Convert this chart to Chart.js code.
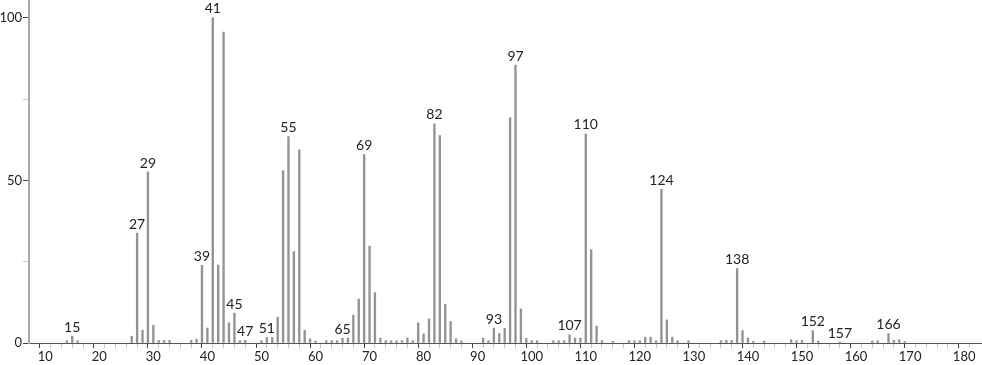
<!DOCTYPE html>
<html>
<head>
<meta charset="utf-8">
<script src="https://cdn.jsdelivr.net/npm/chart.js@4"></script>
<style>
  html, body { margin: 0; padding: 0; background: #fff; }
  #wrap { width: 982px; height: 365px; }
</style>
</head>
<body>
<div id="wrap"><canvas id="spectrum"></canvas></div>
<script>
// m/z values and relative intensities
const mz = [14,15,16,26,27,28,29,30,31,32,33,37,38,39,40,41,42,43,44,45,46,47,50,51,52,53,54,55,56,57,58,59,60,
  62,63,64,65,66,67,68,69,70,71,72,73,74,75,76,77,78,79,80,81,82,83,84,85,86,87,91,92,93,94,95,96,97,98,99,100,101,
  104,105,106,107,108,109,110,111,112,113,115,118,119,120,121,122,123,124,125,126,127,129,135,136,137,138,139,140,141,143,
  148,149,150,152,153,157,163,164,166,167,168,169]
const intensity = [0.7,2.1,0.7,2.1,33.8,3.9,52.6,5.4,0.8,0.8,0.8,0.8,1.2,23.9,4.6,100,24,95.6,6.2,9.2,0.7,0.8,0.7,1.7,1.7,7.9,53,63.5,28.1,59.4,3.9,1.3,0.6,
  0.7,0.7,0.7,1.5,1.5,8.6,13.5,58,29.8,15.5,1.5,0.7,0.7,0.7,0.7,1.5,0.7,6.2,2.8,7.4,67.4,63.8,11.9,6.6,1.3,0.7,1.5,0.7,4.6,2.9,4.5,69.3,85.5,10.5,1.4,0.7,0.7,
  0.7,0.7,0.7,2.5,1.5,1.5,64.3,28.7,5.2,0.7,0.5,0.7,0.7,0.7,1.8,1.8,0.7,47.3,7.1,1.8,0.7,0.7,0.7,0.8,0.8,22.9,3.8,1.5,0.5,0.6,
  1.0,0.7,0.8,3.8,0.6,0.3,0.6,0.7,2.9,0.8,1.0,0.5]
// peaks that carry their m/z as a label
const labelled = [15,27,29,39,41,45,47,51,55,65,69,82,93,97,107,110,124,138,152,157,166]
const xTicks = [10,20,30,40,50,60,70,80,90,100,110,120,130,140,150,160,170,180]

const FONT = "Lato, 'Open Sans', sans-serif"

const points = mz.map((m, i) => ({ x: m, y: intensity[i] }))

const peakLabels = {
  id: 'peakLabels',
  afterDatasetsDraw(chart) {
    const ctx = chart.ctx
    const meta = chart.getDatasetMeta(0)
    ctx.save()
    ctx.font = '14px ' + FONT
    ctx.fillStyle = '#222'
    ctx.textAlign = 'center'
    ctx.textBaseline = 'bottom'
    meta.data.forEach((bar, i) => {
      if (labelled.includes(mz[i])) {
        ctx.fillText(String(mz[i]), bar.x, bar.y - 2)
      }
    })
    ctx.restore()
  }
}

const config = {
  type: 'bar',
  data: {
    datasets: [{
      data: points,
      backgroundColor: '#939393',
      borderWidth: 0,
      barThickness: 1.7
    }]
  },
  options: {
    responsive: true,
    maintainAspectRatio: false,
    animation: false,
    layout: { padding: 0 },
    plugins: { legend: { display: false }, tooltip: { enabled: false } },
    scales: {
      x: {
        type: 'linear',
        min: 7,
        max: 183.3,
        offset: false,
        afterBuildTicks: (scale) => {
          const t = []
          for (let v = 10; v <= 180; v += 2) t.push({ value: v })
          scale.ticks = t
        },
        afterFit: (scale) => {
          scale.height = 22
          scale.paddingLeft = 0
          scale.paddingRight = 0
        },
        ticks: {
          autoSkip: false,
          maxRotation: 0,
          padding: 1,
          color: '#222',
          font: { family: FONT, size: 13 },
          callback: (v) => (xTicks.includes(v) ? String(v) : '')
        },
        grid: {
          drawOnChartArea: false,
          drawTicks: true,
          tickLength: 5,
          tickColor: (c) => (c.tick && c.tick.value % 10 === 0 ? '#444' : '#c8c8c8')
        },
        border: { display: true, color: '#555', width: 1 }
      },
      y: {
        min: 0,
        max: 105.5,
        afterBuildTicks: (scale) => {
          scale.ticks = [{ value: 0 }, { value: 25 }, { value: 50 }, { value: 75 }, { value: 100 }]
        },
        afterFit: (scale) => {
          scale.width = 29
          scale.paddingTop = 0
          scale.paddingBottom = 0
        },
        ticks: {
          padding: 1,
          color: '#222',
          font: { family: FONT, size: 13 },
          callback: (v) => (v % 50 === 0 ? String(v) : '')
        },
        grid: {
          drawOnChartArea: false,
          drawTicks: true,
          tickLength: 6,
          tickColor: (c) => (c.tick && c.tick.value % 50 === 0 ? '#444' : '#c8c8c8')
        },
        border: { display: true, color: '#a8a8a8', width: 2 }
      }
    }
  },
  plugins: [peakLabels]
}

const spectrumChart = new Chart(document.getElementById('spectrum'), config)
</script>
</body>
</html>
